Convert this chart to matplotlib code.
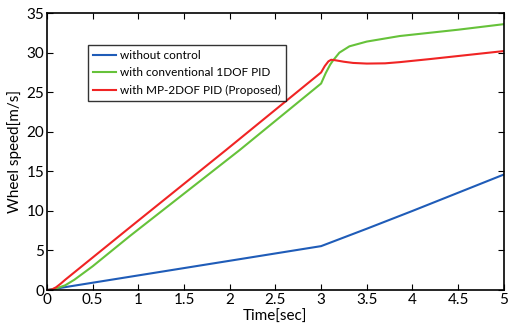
import numpy as np
import matplotlib
matplotlib.use("Agg")
import matplotlib.pyplot as plt

plt.rcParams['font.family'] = ['Lato', 'DejaVu Sans']

# curvas
t_blue = [0, 3.0, 3.5, 4.0, 4.5, 5.0]
v_blue = [0, 5.55, 7.75, 10.0, 12.3, 14.6]

t_green = [0, 0.05, 0.1, 0.2, 0.3, 0.5, 0.908, 2.11, 3.0, 3.05, 3.1, 3.13, 3.2, 3.31, 3.5, 3.86, 4.5, 5.0]
v_green = [0, 0.05, 0.2, 0.6, 1.3, 3.0, 6.83, 17.7, 26.1, 27.4, 28.5, 29.0, 30.0, 30.8, 31.4, 32.1, 32.9, 33.6]

t_red = [0, 0.05, 0.1, 0.15, 0.2, 0.908, 1.96, 3.0, 3.04, 3.08, 3.11, 3.15, 3.25, 3.35, 3.5, 3.7, 3.86, 4.2, 4.6, 5.0]
v_red = [0, 0.05, 0.35, 0.8, 1.3, 7.92, 17.7, 27.5, 28.3, 28.9, 29.1, 29.05, 28.85, 28.7, 28.62, 28.65, 28.8, 29.2, 29.7, 30.2]

labels = ["without control", "with conventional 1DOF PID", "with MP-2DOF PID (Proposed)"]

fig = plt.figure(figsize=(5.1, 3.27), dpi=100)
ax = fig.add_axes([0.092, 0.113, 0.896, 0.847])

ax.plot(t_blue, v_blue, color='#1f5cb8', lw=1.5, label=labels[0])
ax.plot(t_green, v_green, color='#66c23a', lw=1.5, label=labels[1])
ax.plot(t_red, v_red, color='#f02424', lw=1.5, label=labels[2])

ax.set_xlim(0, 5)
ax.set_ylim(0, 35)
ax.set_xticks(np.arange(0, 5.01, 0.5))
ax.set_xticklabels(["0", "0.5", "1", "1.5", "2", "2.5", "3", "3.5", "4", "4.5", "5"])
ax.set_yticks(range(0, 36, 5))
ax.tick_params(direction='in', top=True, right=True, length=4, width=0.8, labelsize=11, pad=2)
for s in ax.spines.values():
    s.set_linewidth(1.2)

ax.set_xlabel('Time[sec]', fontsize=11, labelpad=2)
ax.set_ylabel('Wheel speed[m/s]', fontsize=11, labelpad=3)

leg = ax.legend(loc='upper left', bbox_to_anchor=(0.09, 0.884), fontsize=8.5, frameon=True,
                fancybox=False, edgecolor='black', handlelength=2.0, handletextpad=0.3,
                borderpad=0.4, labelspacing=0.55, borderaxespad=0)
leg.get_frame().set_linewidth(1.0)

plt.savefig('out.png', dpi=100)
